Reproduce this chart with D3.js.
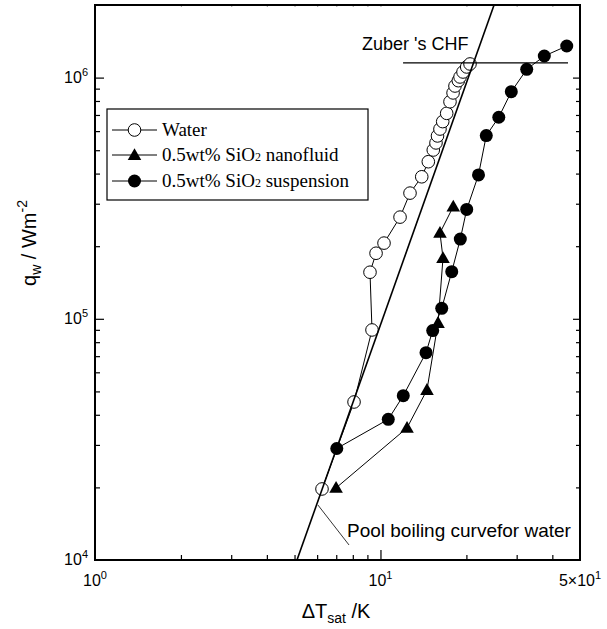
<!DOCTYPE html>
<html><head><meta charset="utf-8">
<script src="https://cdn.jsdelivr.net/npm/d3@7"></script>
<style>body{margin:0;background:#fff}</style>
</head><body>
<svg id="chart" width="607" height="629"></svg>
<script>
// ---- data ----
const waterT = [6.24, 8.08, 9.34, 9.19, 9.65, 10.29, 11.71, 12.69, 13.95, 14.71, 15.31, 15.65, 15.84, 16.16, 16.52, 17.06, 17.52, 17.96, 18.24, 18.74, 19.0, 19.46, 20.05, 20.59];
const waterQ = [1.97e4, 4.52e4, 8.99e4, 1.56e5, 1.87e5, 2.06e5, 2.64e5, 3.32e5, 3.88e5, 4.48e5, 5.01e5, 5.36e5, 5.73e5, 6.12e5, 6.57e5, 7.11e5, 7.94e5, 8.64e5, 9.23e5, 9.71e5, 1.006e6, 1.055e6, 1.107e6, 1.139e6];
const nanoT = [6.99, 12.39, 14.55, 15.91, 16.56, 16.16, 17.99];
const nanoQ = [1.99e4, 3.53e4, 5.07e4, 9.61e4, 1.787e5, 2.27e5, 2.92e5];
const suspT = [7.03, 10.65, 12.02, 14.44, 15.24, 16.39, 17.77, 19.04, 20.05, 22.05, 23.48, 25.97, 28.73, 32.53, 37.49, 44.93];
const suspQ = [2.90e4, 3.83e4, 4.80e4, 7.24e4, 8.94e4, 1.105e5, 1.568e5, 2.14e5, 2.84e5, 3.95e5, 5.75e5, 6.85e5, 8.74e5, 1.082e6, 1.229e6, 1.352e6];
const poolT = [5.1, 25.0];
const poolQ = [1e4, 2e6];
const zuberT = [12.0, 45.4];
const zuberQ = 1.15e6;
const seriesNames = ["Water", "0.5wt% SiO", "0.5wt% SiO"];
const seriesSuffix = ["", " nanofluid", " suspension"];
const xTickVals = [1, 10, 50];
const xTickBase = ["10", "10", "5\u00d710"];
const xTickExp = ["0", "1", "1"];
const yTickVals = [1e4, 1e5, 1e6];
const yTickBase = ["10", "10", "10"];
const yTickExp = ["4", "5", "6"];

// ---- layout ----
const L = 95, R = 580, T = 5, B = 560;
const svg = d3.select("#chart");
const x = d3.scaleLog().domain([1, 50]).range([L, R]);
const y = d3.scaleLog().domain([1e4, 2e6]).range([B, T]);
const sans = "Liberation Sans, Arial, Helvetica, sans-serif";
const serif = "Liberation Serif, Times New Roman, serif";

const xMinor = [2,3,4,5,6,7,8,9,20,30,40];
const xMajor = [10];
const yMinor = [];
[1e4,1e5,1e6].forEach(d => { for (let k=2;k<=9;k++){ const v=d*k; if (v<2e6) yMinor.push(v);} });
const yMajor = [1e5, 1e6];

function tickGroup(axis, tr) {
  const g = svg.append("g").attr("transform", tr).call(axis);
  g.select(".domain").remove();
  g.selectAll("line").attr("stroke", "#000").attr("stroke-width", 1.2);
  return g;
}
// bottom (inward)
tickGroup(d3.axisTop(x).tickValues(xMinor).tickSize(5).tickFormat(""), `translate(0,${B})`);
tickGroup(d3.axisTop(x).tickValues(xMajor).tickSize(10).tickFormat(""), `translate(0,${B})`);
// top (faint)
tickGroup(d3.axisBottom(x).tickValues(xMinor.concat(xMajor)).tickSize(2).tickFormat(""), `translate(0,${T})`).selectAll("line").attr("stroke","#aaa");
// left (inward)
tickGroup(d3.axisRight(y).tickValues(yMinor).tickSize(5).tickFormat(""), `translate(${L},0)`);
tickGroup(d3.axisRight(y).tickValues(yMajor).tickSize(9).tickFormat(""), `translate(${L},0)`);
// right (inward)
tickGroup(d3.axisLeft(y).tickValues(yMinor).tickSize(4).tickFormat(""), `translate(${R},0)`);
tickGroup(d3.axisLeft(y).tickValues(yMajor).tickSize(7).tickFormat(""), `translate(${R},0)`);

// frame
svg.append("rect").attr("x", L).attr("y", T).attr("width", R-L).attr("height", B-T)
  .attr("fill", "none").attr("stroke", "#000").attr("stroke-width", 2);

// tick labels
xTickVals.forEach((v,i) => {
  const t = svg.append("text").attr("x", x(v)).attr("y", 586).attr("text-anchor","middle")
    .attr("font-family", sans).attr("font-size", 16);
  t.append("tspan").text(xTickBase[i]);
  t.append("tspan").attr("font-size", 11).attr("dy", -7).text(xTickExp[i]);
});
yTickVals.forEach((v,i) => {
  const t = svg.append("text").attr("x", 88).attr("y", y(v) + 5).attr("text-anchor","end")
    .attr("font-family", sans).attr("font-size", 16);
  t.append("tspan").text(yTickBase[i]);
  t.append("tspan").attr("font-size", 11).attr("dy", -7).text(yTickExp[i]);
});

// axis titles
const xt = svg.append("text").attr("x", 336).attr("y", 618).attr("text-anchor","middle")
  .attr("font-family", sans).attr("font-size", 20);
xt.append("tspan").text("\u0394T");
xt.append("tspan").attr("font-size", 14).attr("dy", 5).text("sat");
xt.append("tspan").attr("dy", -5).text(" /K");

const yt = svg.append("text").attr("transform", "translate(36,243) rotate(-90)").attr("text-anchor","middle")
  .attr("font-family", sans).attr("font-size", 20);
yt.append("tspan").text("q");
yt.append("tspan").attr("font-size", 14).attr("dy", 5).text("w");
yt.append("tspan").attr("dy", -5).text(" / Wm");
yt.append("tspan").attr("font-size", 14).attr("dy", -9).text("-2");

// series lines
const line = d3.line().x(d => x(d[0])).y(d => y(d[1]));
const waterPts = waterT.map((t,i) => [t, waterQ[i]]);
const nanoPts = nanoT.map((t,i) => [t, nanoQ[i]]);
const suspPts = suspT.map((t,i) => [t, suspQ[i]]);
[waterPts, nanoPts, suspPts].forEach(p => {
  svg.append("path").attr("d", line(p)).attr("fill","none").attr("stroke","#000").attr("stroke-width",1);
});

// markers
svg.append("g").selectAll("circle").data(suspPts).join("circle")
  .attr("cx", d => x(d[0])).attr("cy", d => y(d[1])).attr("r", 6.5).attr("fill", "#000");
const tri = d3.symbol().type(d3.symbolTriangle).size(80);
svg.append("g").selectAll("path").data(nanoPts).join("path")
  .attr("d", tri).attr("transform", d => `translate(${x(d[0])},${y(d[1])+1})`).attr("fill", "#000");
svg.append("g").selectAll("circle").data(waterPts).join("circle")
  .attr("cx", d => x(d[0])).attr("cy", d => y(d[1])).attr("r", 6.3)
  .attr("fill", "#fff").attr("stroke", "#000").attr("stroke-width", 1);

// pool boiling curve and Zuber CHF
svg.append("line").attr("x1", x(poolT[0])).attr("y1", y(poolQ[0])).attr("x2", x(poolT[1])).attr("y2", y(poolQ[1]))
  .attr("stroke", "#000").attr("stroke-width", 1.6);
svg.append("line").attr("x1", x(zuberT[0])).attr("x2", x(zuberT[1])).attr("y1", y(zuberQ)).attr("y2", y(zuberQ))
  .attr("stroke", "#000").attr("stroke-width", 1.2);

// annotations
svg.append("text").attr("x", 362).attr("y", 50).attr("font-family", sans).attr("font-size", 18).text("Zuber 's CHF");
svg.append("text").attr("x", 347).attr("y", 537).attr("font-family", sans).attr("font-size", 19).text("Pool boiling curvefor water");
svg.append("line").attr("x1", x(6.04)).attr("y1", y(1.69e4)).attr("x2", x(7.76)).attr("y2", y(1.154e4))
  .attr("stroke", "#000").attr("stroke-width", 0.8);

// legend
const lg = svg.append("g");
lg.append("rect").attr("x", 107).attr("y", 109).attr("width", 261).attr("height", 91)
  .attr("fill", "#fff").attr("stroke", "#000").attr("stroke-width", 1.2);
const rows = [130, 155, 181];
rows.forEach((ry, i) => {
  lg.append("line").attr("x1", 112).attr("x2", 157).attr("y1", ry).attr("y2", ry).attr("stroke", "#000").attr("stroke-width", 1);
  if (i === 0) lg.append("circle").attr("cx", 134.5).attr("cy", ry).attr("r", 6.3).attr("fill", "#fff").attr("stroke", "#000");
  if (i === 1) lg.append("path").attr("d", tri).attr("transform", `translate(134.5,${ry+1})`).attr("fill", "#000");
  if (i === 2) lg.append("circle").attr("cx", 134.5).attr("cy", ry).attr("r", 6.5).attr("fill", "#000");
  const t = lg.append("text").attr("x", 162).attr("y", ry + 6).attr("font-family", serif).attr("font-size", 19);
  t.append("tspan").text(seriesNames[i]);
  if (i > 0) {
    t.append("tspan").attr("font-size", 12).attr("dy", 0).text("2");
    t.append("tspan").text(seriesSuffix[i]);
  }
});
</script>
</body></html>
